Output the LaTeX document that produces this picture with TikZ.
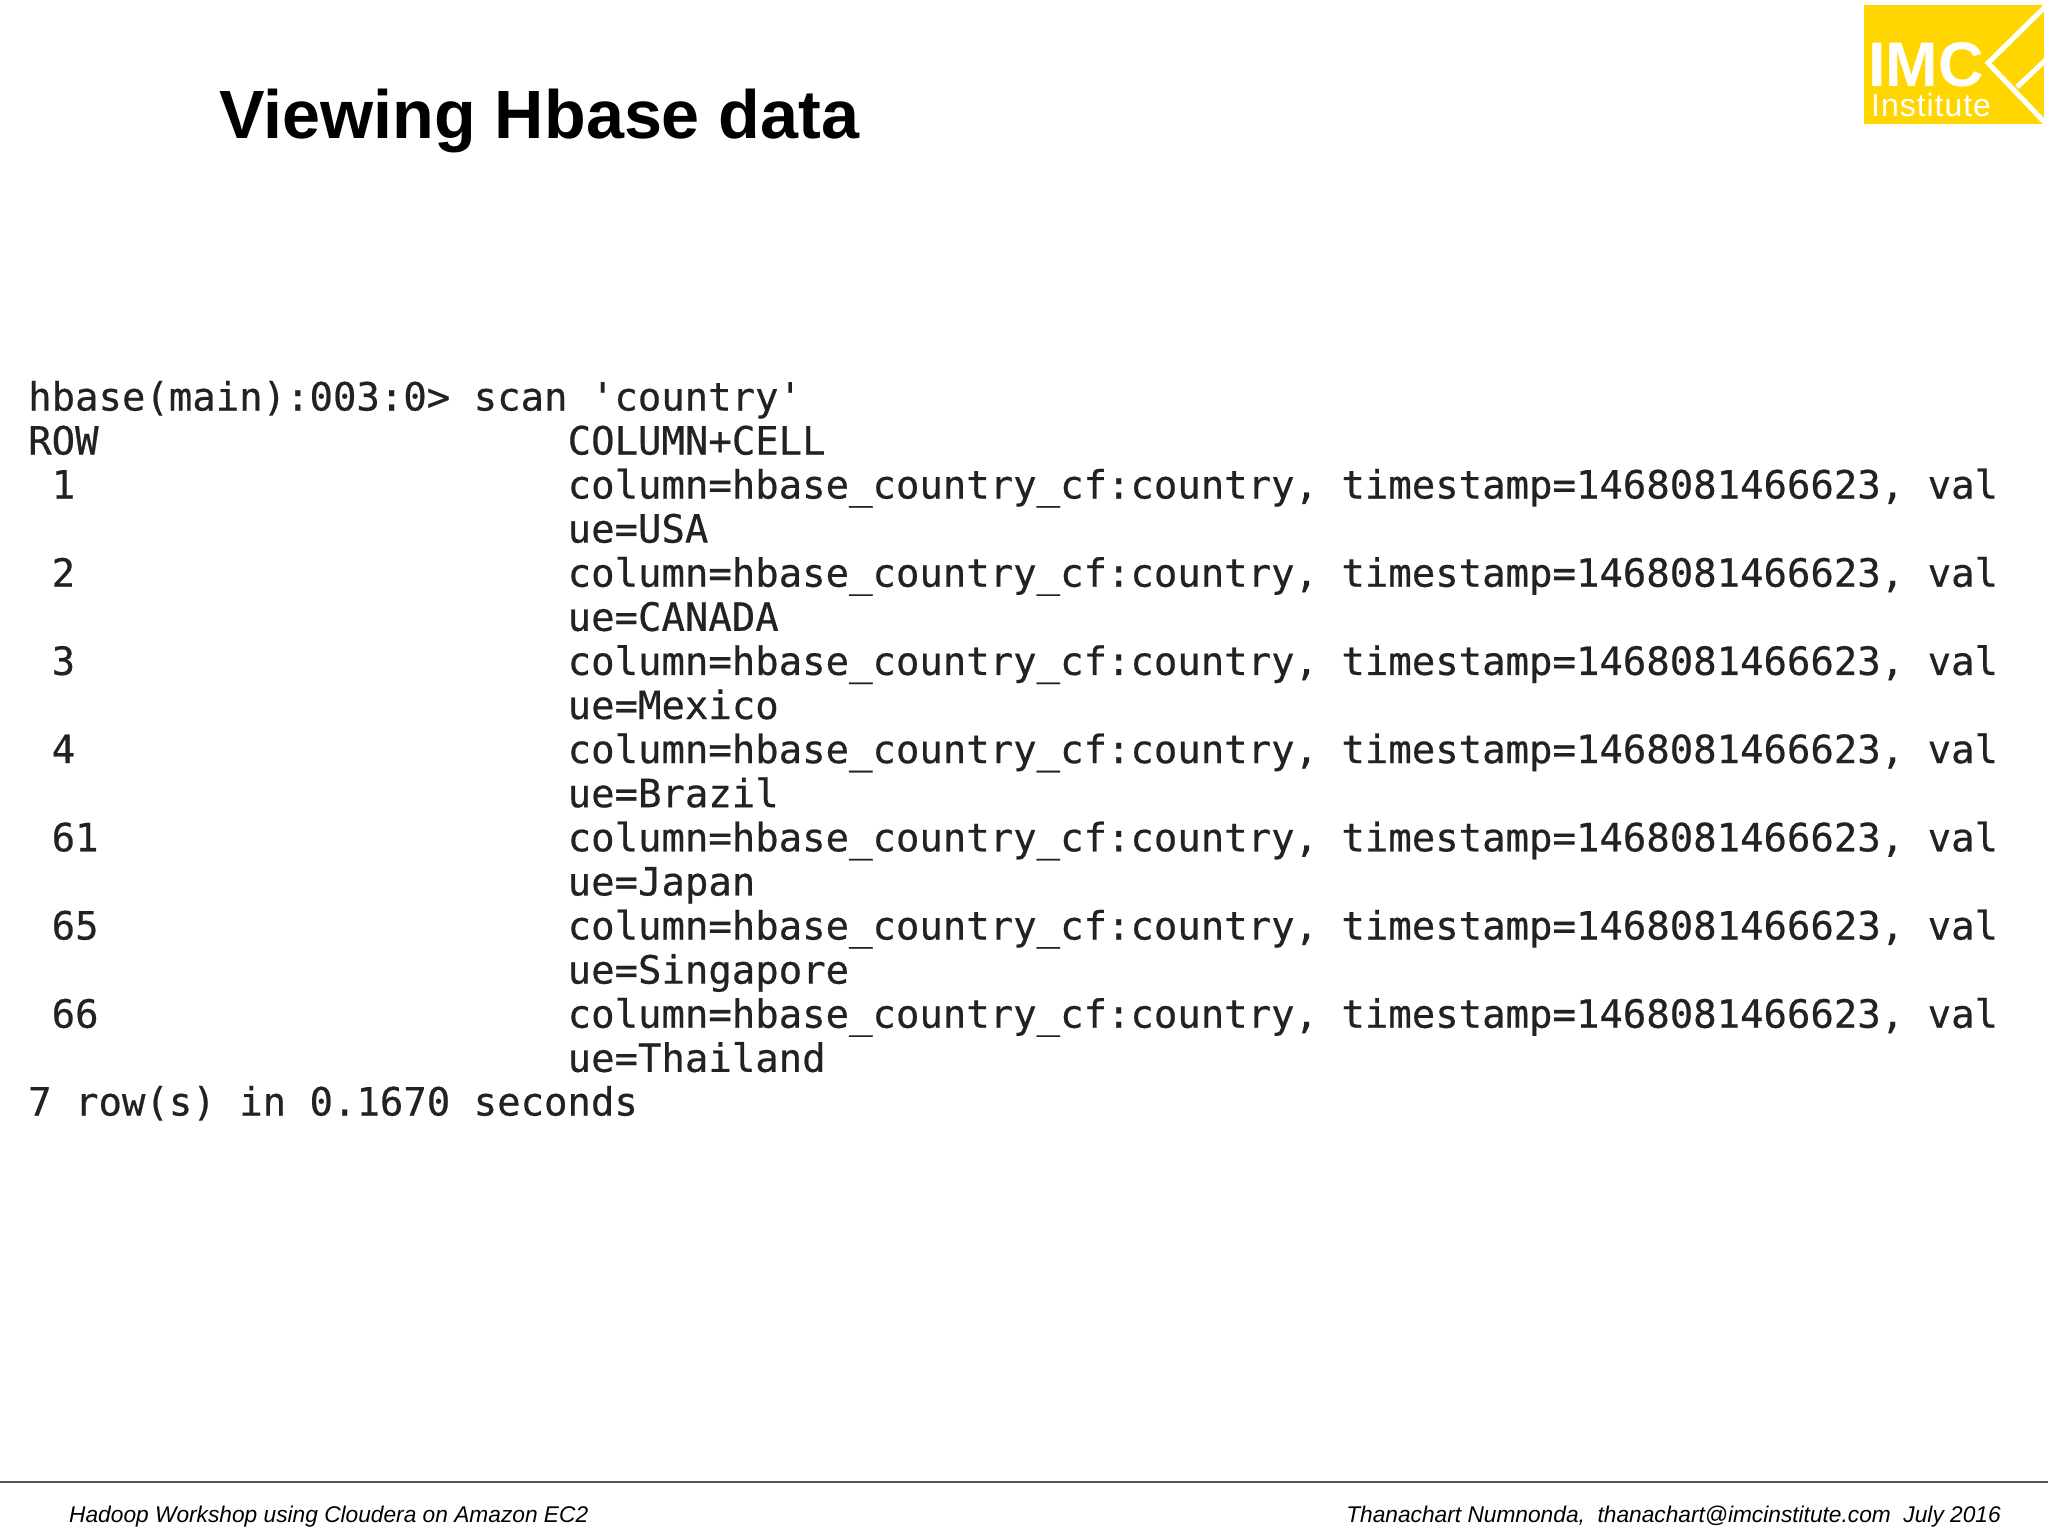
\documentclass[tikz,border=0pt]{standalone}
\usepackage{fontspec}
\setmainfont{Liberation Sans}
\setmonofont[FakeBold=0.5]{DejaVu Sans Mono}
\newfontfamily\logofont[LetterSpace=3]{Liberation Sans}
\definecolor{imcyellow}{HTML}{FFD600}
\definecolor{termtext}{HTML}{222222}
\definecolor{rulegray}{HTML}{555555}
\tikzset{
    term/.style={anchor=base west, inner sep=0pt, text=termtext, font=\ttfamily\fontsize{38.95}{44}\selectfont},
    foot/.style={inner sep=0pt, font=\itshape\fontsize{22.72}{28}\selectfont},
}
\begin{document}
\begin{tikzpicture}[x=1pt,y=-1pt]
    \useasboundingbox (0,0) rectangle (2048,1536);
    \fill[white] (0,0) rectangle (2048,1536);
    % logo
    \fill[imcyellow] (1864,5) rectangle (2044,124);
    \begin{scope}
        \clip (1864,5) rectangle (2044,124);
        \draw[white, line width=5pt] (2050,2) -- (1988,63) -- (2050,128);
        \draw[white, line width=5pt] (2017,87) -- (2050,56);
    \end{scope}
    \node[anchor=base west, inner sep=0pt, text=white, font=\bfseries\fontsize{63}{63}\selectfont] (logoname) at (1868,87) {IMC};
    \node[anchor=base west, inner sep=0pt, text=white, font=\logofont\fontsize{32}{32}\selectfont] (logosub) at (1871,117) {Institute};
    % title
    \node[anchor=base west, inner sep=0pt, font=\bfseries\fontsize{68.3}{68}\selectfont] (title) at (219,139) {Viewing Hbase data};
    % terminal output
    \node[term] (prompt) at (28,410.5) {hbase(main):003:0> scan 'country'};
    \node[term] (rowhead) at (28,454.5) {ROW};
    \node[term] (colhead) at (567.5,454.5) {COLUMN+CELL};
    \foreach \rowid/\rowval [count=\i from 0] in {1/USA, 2/CANADA, 3/Mexico, 4/Brazil, 61/Japan, 65/Singapore, 66/Thailand} {
        \node[term] (row\i) at (51.5,498.5+88.2*\i) {\rowid};
        \node[term] (cell\i) at (567.5,498.5+88.2*\i) {column=hbase\_country\_cf:country, timestamp=1468081466623, val};
        \node[term] (value\i) at (567.5,542.6+88.2*\i) {ue=\rowval};
    }
    \node[term] (summary) at (28,1115.5) {7 row(s) in 0.1670 seconds};
    % footer
    \draw[rulegray, line width=2pt] (0,1482) -- (2048,1482);
    \node[foot, anchor=base west] (footleft) at (69,1522) {Hadoop Workshop using Cloudera on Amazon EC2};
    \node[foot, anchor=base east] (footright) at (2001,1522) {Thanachart Numnonda,\ \ thanachart@imcinstitute.com\ \ July 2016};
\end{tikzpicture}
\end{document}
